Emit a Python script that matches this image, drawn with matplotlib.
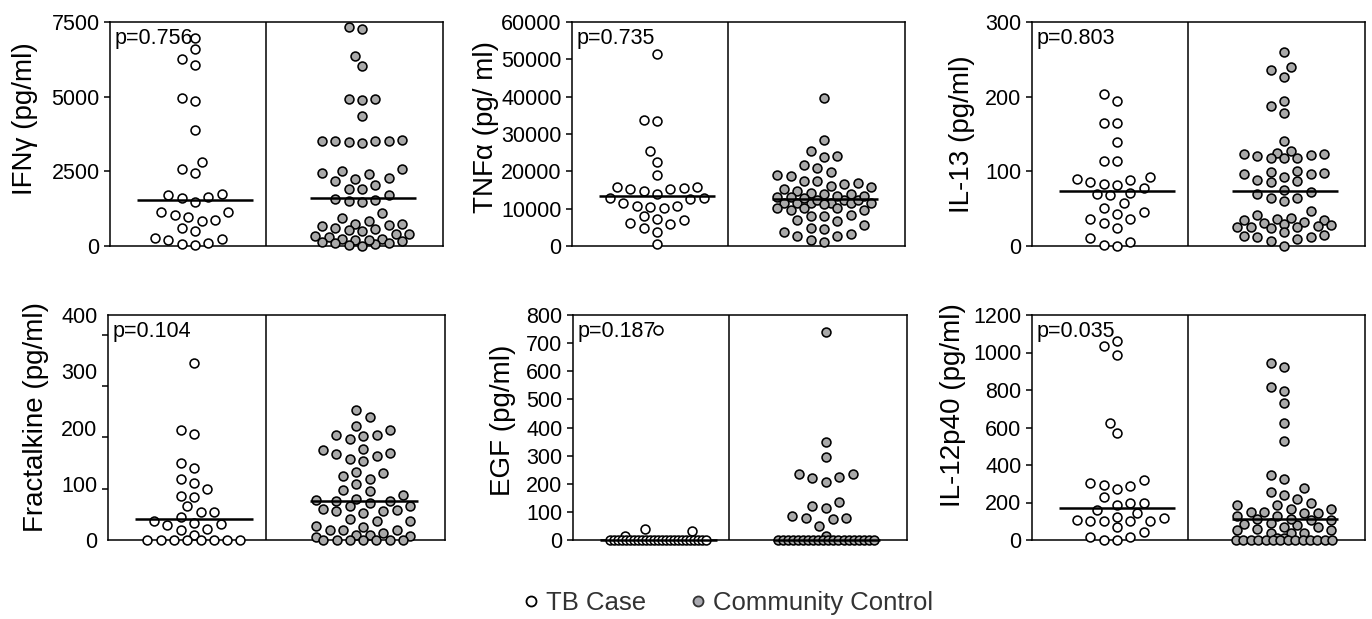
import numpy as np
import matplotlib
matplotlib.use('Agg')
import matplotlib.pyplot as plt
from matplotlib.lines import Line2D

plt.rcParams['font.family'] = ['Liberation Sans', 'DejaVu Sans']

# values (pg/ml)
ifng_tb = [6974, 6582, 6269, 6045, 4959, 4847, 3884, 2799, 2563, 2429, 1757, 1701, 1623, 1645,
           1478, 1153, 1153, 974, 1030, 884, 840, 616, 504, 246, 257, 213, 90, 22, 56]
ifng_cc = [7254, 7332, 6347, 6011, 4925, 4892, 4925, 4366, 3548, 3526, 3504, 3437, 3481, 3504,
           3526, 2519, 2440, 2575, 2395, 2272, 2183, 2239, 2049, 1925, 1903, 1713, 1567, 1500,
           1489, 1556, 1119, 929, 840, 750, 750, 672, 616, 694, 560, 504, 526, 392, 414, 313,
           336, 201, 168, 224, 246, 56, 112, 201, 146, 90, 0, 22]
tnf_tb = [51490, 33400, 33760, 25520, 22480, 19070, 15850, 15490, 15220, 14780, 15220, 15850,
          13880, 12990, 12990, 12720, 11640, 10750, 10300, 10570, 10750, 8060, 6900, 5820, 6270,
          7250, 4750, 3850, 630]
tnf_cc = [39580, 28390, 25340, 23730, 24180, 20870, 21760, 19700, 19070, 18630, 17460, 17460,
          16750, 16120, 15220, 15850, 16570, 14330, 13880, 14600, 12300, 11600, 13000, 11600,
          13400, 11400, 12300, 13900, 11600, 12900, 11400, 13000, 11600, 12300, 13300, 10300,
          10120, 9580, 9580, 10120, 11190, 8060, 8060, 8240, 6720, 6900, 5640, 4930, 4480, 3310,
          2690, 2690, 3850, 1160, 1520]
il13_tb = [203.8, 194.8, 164.3, 164.3, 138.8, 114.2, 114.2, 92.7, 88.2, 89.6, 82.8, 77.5, 81.9,
           85.1, 69.4, 68.5, 70.7, 57.3, 51.5, 43.4, 46.1, 35.8, 35.8, 31.3, 24.6, 5.8, 11.2, 0, 1.3]
il13_cc = [259.7, 239.6, 236.0, 227.0, 194.8, 188.1, 177.8, 140.2, 123.1, 120.9, 124.0, 126.7,
           122.2, 123.1, 117.8, 117.8, 117.8, 97.2, 96.3, 100.8, 98.5, 96.3, 92.7, 88.7, 85.1,
           87.3, 75.2, 70.3, 71.7, 64.0, 64.9, 59.6, 47.0, 38.1, 41.2, 34.9, 32.2, 31.3, 34.5,
           35.8, 30.0, 26.9, 25.5, 24.6, 26.0, 25.5, 28.2, 14.3, 12.5, 9.0, 19.3, 6.7, 12.1, 13.4, 0]
frac_tb = [313.8, 195.0, 187.8, 137.3, 128.4, 101.6, 107.6, 89.8, 77.9, 77.3, 60.0, 49.3, 50.5,
           41.6, 33.3, 28.5, 27.3, 30.3, 19.6, 17.8, 9.5, 0, 0, 0, 0, 0, 0, 0, 0]
frac_cc = [231.8, 218.7, 195.0, 186.0, 178.9, 184.8, 186.0, 202.7, 159.3, 152.2, 143.2, 140.3,
           149.2, 155.1, 162.3, 120.7, 113.5, 98.7, 108.8, 118.9, 89.2, 80.8, 88.0, 71.3, 70.1,
           73.1, 66.0, 70.1, 61.2, 61.2, 55.3, 52.3, 48.1, 51.1, 54.1, 34.5, 25.6, 23.8, 34.5,
           37.4, 18.4, 18.4, 9.5, 6.5, 5.9, 9.5, 12.5, 18.4, 0, 0, 0, 0, 0, 0, 0]
egf_tb = [746.7, 33.2, 37.9, 14.2] + [0] * 25
egf_cc = [740.7, 347.3, 293.9, 233.5, 219.3, 207.4, 222.8, 234.7, 133.9, 115.0, 120.9, 79.4,
          73.5, 77.0, 85.3, 49.8, 15.4] + [0] * 20
il12_tb = [1058.9, 1032.1, 987.5, 621.4, 571.4, 291.1, 273.2, 303.6, 317.9, 285.7, 226.8, 196.4,
           187.5, 196.4, 160.7, 125.0, 142.9, 116.1, 107.1, 101.8, 101.8, 101.8, 101.8, 67.9,
           41.1, 17.9, 17.9, 0, 0]
il12_cc = [946.4, 925.0, 794.6, 817.9, 732.1, 625.0, 526.8, 348.2, 325.0, 276.8, 255.4, 237.5,
           219.6, 196.4, 187.5, 187.5, 164.3, 151.8, 146.4, 146.4, 151.8, 164.3, 128.6, 128.6,
           107.1, 89.3, 83.9, 110.7, 80.4, 107.1, 110.7, 71.4, 67.9, 57.1, 53.6, 39.3, 35.7,
           39.3, 53.6, 8.9, 8.9] + [0] * 14

medians = [(1534, 1623), (13343, 12537), (73.0, 73.9), (36.9, 69.0), (0, 0), (169.6, 112.5)]
pvalues = ['p=0.756', 'p=0.735', 'p=0.803', 'p=0.104', 'p=0.187', 'p=0.035']
ylabels = ['IFN\u03b3 (pg/ml)', 'TNF\u03b1 (pg/ ml)', 'IL-13 (pg/ml)',
           'Fractalkine (pg/ml)', 'EGF (pg/ml)', 'IL-12p40 (pg/ml)']
yticks = [[0, 2500, 5000, 7500], list(range(0, 60001, 10000)), [0, 100, 200, 300],
          [0, 100, 200, 300, 400], list(range(0, 801, 100)), list(range(0, 1201, 200))]
tb_data = [ifng_tb, tnf_tb, il13_tb, frac_tb, egf_tb, il12_tb]
cc_data = [ifng_cc, tnf_cc, il13_cc, frac_cc, egf_cc, il12_cc]

W, H = 1372, 619
# axes boxes in pixels: left, top, right, bottom
boxes = [(110, 22, 443, 246), (572, 22, 905, 246), (1032, 22, 1365, 246),
         (108, 315, 445, 540), (573, 315, 907, 540), (1032, 315, 1365, 540)]
label_xy = [(-0.216, 0.567), (-0.219, 0.53), (-0.171, 0.5),
            (-0.175, 0.545), (-0.171, 0.53), (-0.198, 0.6)]


def swarm_x(vals, ppu, maxoff=48.0, step=6.7, mind=11.5):
    # greedy grid swarm, offsets in pixels
    vals = np.asarray(vals, float)
    y = vals * ppu
    x = np.full(len(vals), np.nan)
    u, c = np.unique(vals, return_counts=True)
    for val, n in zip(u, c):
        if n >= 5:
            idx = np.where(vals == val)[0]
            half = min(maxoff, (n - 1) * 13.3 / 2)
            x[idx] = np.linspace(-half, half, n)
    cand = [0.0]
    k = 1
    while k * step <= maxoff:
        cand += [-k * step, k * step]
        k += 1
    for i in np.argsort(vals, kind='stable'):
        if not np.isnan(x[i]):
            continue
        ok = ~np.isnan(x)
        px, py = x[ok], y[ok]
        best, bestd = 0.0, -1.0
        for cx in cand:
            d = np.min(np.hypot(px - cx, py - y[i])) if len(px) else 1e9
            if d >= mind:
                best = cx
                break
            if d > bestd:
                best, bestd = cx, d
        x[i] = best
    return x


fig = plt.figure(figsize=(W / 100, H / 100), dpi=100)

for i in range(6):
    l, t, r, b = boxes[i]
    ax = fig.add_axes([l / W, 1 - b / H, (r - l) / W, (b - t) / H])
    ymax = yticks[i][-1]
    ax.set_xlim(0, 1)
    ax.set_ylim(0, ymax)
    ppu = (b - t) / ymax
    wpx = r - l
    for vals, cx, face in [(tb_data[i], 0.255, 'white'), (cc_data[i], 0.757, '#a9a9a9')]:
        xo = swarm_x(vals, ppu)
        ax.plot(cx + xo / wpx, vals, 'o', ms=6.4, mfc=face, mec='black', mew=1.15,
                clip_on=False, zorder=3)
    ax.hlines(medians[i][0], 0.08, 0.43, color='black', lw=1.8, zorder=4, clip_on=False)
    ax.hlines(medians[i][1], 0.60, 0.92, color='black', lw=1.8, zorder=4, clip_on=False)
    ax.axvline(0.468, color='black', lw=1.1)
    for s in ax.spines.values():
        s.set_linewidth(1.1)
    ax.set_xticks([])
    ax.set_yticks(yticks[i])
    ax.set_yticklabels([str(v) for v in yticks[i]])
    if i == 3:
        # odd tick marks on the Fractalkine axis
        ax.tick_params(axis='y', which='major', length=0, pad=7.5, labelsize=15.5)
        ax.set_yticks([0, 91, 183, 273, 364], minor=True)
        ax.tick_params(axis='y', which='minor', length=4, width=1.1)
    else:
        ax.tick_params(axis='y', length=4, width=1.1, labelsize=15.5, pad=3.5)
    ax.set_ylabel(ylabels[i], fontsize=20)
    ax.yaxis.set_label_coords(*label_xy[i])
    ax.text(0.015, 0.975, pvalues[i], transform=ax.transAxes, fontsize=15.5,
            va='top', ha='left', zorder=5)

handles = [Line2D([], [], ls='none', marker='o', ms=7.2, mfc='white', mec='black', mew=1.3),
           Line2D([], [], ls='none', marker='o', ms=7.2, mfc='#a9a9b0', mec='#333333', mew=1.3)]
fig.legend(handles, ['TB Case', 'Community Control'], loc='center', bbox_to_anchor=(0.529, 0.026),
           ncol=2, frameon=False, fontsize=18.5, handletextpad=0.1, columnspacing=1.5,
           handlelength=1.0, labelcolor='#333333')

fig.savefig('out.png', dpi=100)
